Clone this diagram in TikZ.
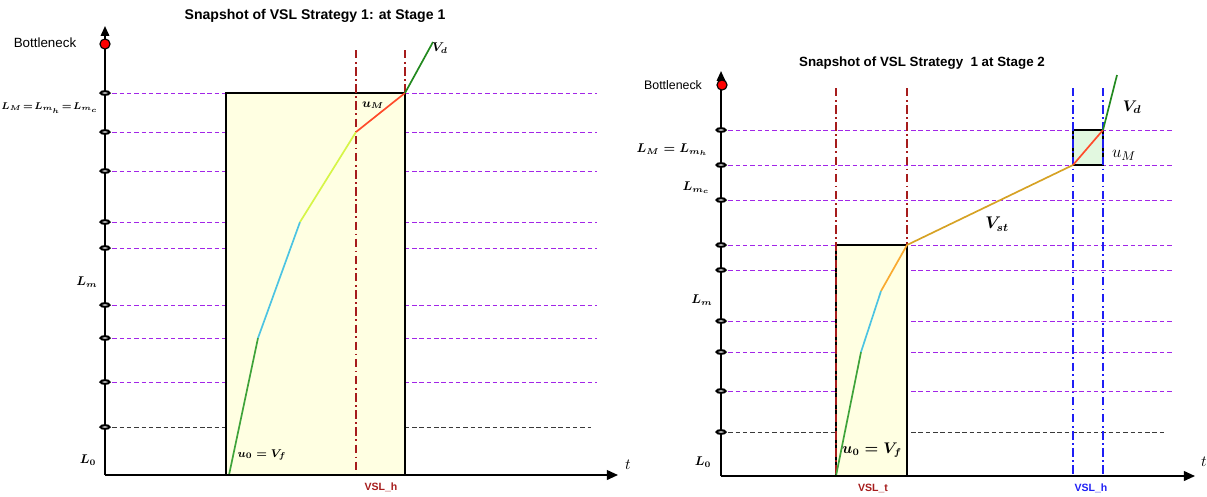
\documentclass[tikz,border=0pt]{standalone}
\usepackage{amsmath,amssymb}
\usepackage{fontspec}
\setsansfont{Liberation Sans}
\usepackage{xcolor}
\usepackage{tikz}
\usetikzlibrary{arrows.meta,positioning,calc}
\definecolor{cLevel}{HTML}{A226E8}
\definecolor{cBase}{HTML}{3A3A3A}
\definecolor{cVslT}{HTML}{A61C1C}
\definecolor{cVslH}{HTML}{1F1FF5}
\definecolor{cZone}{HTML}{FFFFE2}
\definecolor{cZoneG}{HTML}{E2F8E0}
\definecolor{cFree}{HTML}{3FA33A}
\definecolor{cSky}{HTML}{4CC4E2}
\definecolor{cLime}{HTML}{D6F547}
\definecolor{cRed}{HTML}{FF4B2B}
\definecolor{cOut}{HTML}{22891F}
\definecolor{cOrange}{HTML}{F9AA30}
\definecolor{cGold}{HTML}{D6A224}
\tikzset{
  axis/.style   = {draw=black, line width=1.3pt, -{Triangle[length=7pt,width=6pt]}},
  level/.style  = {draw=cLevel, line width=0.7pt, dash pattern=on 3.2pt off 2pt},
  base/.style   = {draw=cBase, line width=0.7pt, dash pattern=on 3.2pt off 2pt},
  vsl/.style    = {draw=#1, line width=1.3pt, dash pattern=on 6pt off 2.5pt on 1.2pt off 2.5pt},
  vsl/.default  = cVslT,
  zone/.style   = {draw=black, line width=1.3pt, fill=#1},
  zone/.default = cZone,
  seg/.style    = {draw=#1, line width=1.2pt},
  tick/.style   = {draw=black, fill=white, line width=1.5pt},
  ttl/.style    = {font=\sffamily\bfseries\fontsize{10}{12}\selectfont, inner sep=0pt},
  bneck/.style  = {font=\sffamily\fontsize{9.5}{11}\selectfont, inner sep=0pt},
  lab/.style    = {font=\fontsize{9}{11}\selectfont, inner sep=0pt},
  vlab/.style   = {font=\sffamily\bfseries\fontsize{7.5}{9}\selectfont, text=#1, inner sep=0pt},
}

\begin{document}
\begin{tikzpicture}[x=0.025cm, y=-0.025cm]
  \useasboundingbox (0,0) rectangle (1207,496);

  % stage 1
  \fill[cZone] (226,93) rectangle (405,475);
  \foreach \y in {93,132,171,222,248,305,338,382}
    \draw[level] (105,\y) -- (597,\y);
  \draw[base] (105,427) -- (591,427);
  \node[draw=none, minimum size=0pt, inner sep=0pt] (z1a) at (226,475) {};
  \node[draw=none, minimum size=0pt, inner sep=0pt] (z1b) at (405,93) {};
  \draw[zone] (z1a) rectangle (z1b);
  \draw[vsl] (356,50) -- (356,475);
  \draw[vsl] (405,50) -- (405,93);

  \coordinate (a0) at (229,475);
  \coordinate (a1) at (258,338);
  \coordinate (a2) at (300,222);
  \coordinate (a3) at (356,132);
  \coordinate (a4) at (405,93);
  \coordinate (a5) at (433,42);
  \draw[seg=cFree] (a0) -- (a1);
  \draw[seg=cSky]  (a1) -- (a2);
  \draw[seg=cLime] (a2) -- (a3);
  \draw[seg=cRed]  (a3) -- (a4);
  \draw[seg=cOut]  (a4) -- (a5);

  \coordinate (o1) at (105,475);
  \draw[axis] (o1) -- (105,26);
  \draw[axis, -{Triangle[length=8pt,width=7pt]}] (o1) -- (618,475);
  \foreach \y in {93,132,171,222,248,305,338,382,427}
    \draw[tick] (105,\y) ellipse [x radius=3.2pt, y radius=1.3pt];
  \draw[fill=red, draw=black, line width=0.8pt] (105,44) circle [radius=3.6pt];

  \node[ttl] (ttl1) at (315,16) {Snapshot of VSL Strategy 1: at Stage 1};
  \node[bneck] (bn1) at (45,43) {Bottleneck};
  \node[lab, anchor=east, font=\fontsize{7}{9}\selectfont] (lM1) at (98,108)
    {$\boldsymbol{L_M \mskip2mu{=}\mskip2mu L_{m_h} \mskip2mu{=}\mskip2mu L_{m_c}}$};
  \node[lab] (lm1) at (87,282) {$\boldsymbol{L_m}$};
  \node[lab] (l01) at (88,460) {$\boldsymbol{L_0}$};
  \node[lab, font=\fontsize{11}{13}\selectfont] (t1) at (628,465) {$t$};
  \node[vlab=cVslT] (vslh1) at (381,487) {VSL\_h};
  \node[lab, font=\fontsize{8}{10}\selectfont] (u01) at (262,455) {$\boldsymbol{u_0 = V_f}$};
  \node[lab] (uM1) at (373,105) {$\boldsymbol{u_M}$};
  \node[lab] (vd1) at (440,48) {$\boldsymbol{V_d}$};

  % stage 2
  \fill[cZone] (836,245) rectangle (907,476);
  \fill[cZoneG] (1073,130) rectangle (1103,165);
  \foreach \y in {130,165,200,245,270,321,352,391}
    \draw[level] (721,\y) -- (1173,\y);
  \draw[base] (721,432) -- (1167,432);
  \node[draw=none, inner sep=0pt] (z2a) at (836,476) {};
  \node[draw=none, inner sep=0pt] (z2b) at (907,245) {};
  \draw[zone] (z2a) rectangle (z2b);
  \node[draw=none, inner sep=0pt] (z3a) at (1073,165) {};
  \node[draw=none, inner sep=0pt] (z3b) at (1103,130) {};
  \draw[zone=cZoneG, fill=none] (z3a) rectangle (z3b);
  \draw[vsl] (836,88) -- (836,476);
  \draw[vsl] (907,88) -- (907,245);
  \draw[vsl=cVslH] (1073,88) -- (1073,476);
  \draw[vsl=cVslH] (1103,88) -- (1103,476);

  \coordinate (b0) at (836,476);
  \coordinate (b1) at (861,352);
  \coordinate (b2) at (881,291);
  \coordinate (b3) at (907,245);
  \coordinate (b4) at (1073,165);
  \coordinate (b5) at (1103,130);
  \coordinate (b6) at (1117,75);
  \draw[seg=cFree]   (b0) -- (b1);
  \draw[seg=cSky]    (b1) -- (b2);
  \draw[seg=cOrange] (b2) -- (b3);
  \draw[seg=cGold]   (b3) -- (b4);
  \draw[seg=cRed]    (b4) -- (b5);
  \draw[seg=cOut]    (b5) -- (b6);

  \coordinate (o2) at (721,476);
  \draw[axis] (o2) -- (721,71);
  \draw[axis, -{Triangle[length=8pt,width=7pt]}] (o2) -- (1195,476);
  \foreach \y in {130,165,200,245,270,321,352,391,432}
    \draw[tick] (721,\y) ellipse [x radius=3.2pt, y radius=1.3pt];
  \draw[fill=red, draw=black, line width=0.8pt] (722,85) circle [radius=3.6pt];

  \node[ttl, font=\sffamily\bfseries\fontsize{9.5}{11}\selectfont] (ttl2) at (922,63) {Snapshot of VSL Strategy\ \ 1 at Stage 2};
  \node[bneck, font=\sffamily\fontsize{8.8}{10}\selectfont] (bn2) at (673,85) {Bottleneck};
  \node[lab, anchor=east] (lM2) at (708,150) {$\boldsymbol{L_M = L_{m_h}}$};
  \node[lab] (lmc2) at (696,188) {$\boldsymbol{L_{m_c}}$};
  \node[lab] (lm2) at (702,300) {$\boldsymbol{L_m}$};
  \node[lab] (l02) at (703,462) {$\boldsymbol{L_0}$};
  \node[lab, font=\fontsize{11}{13}\selectfont] (t2) at (1204,462) {$t$};
  \node[vlab=cVslT] (vslt2) at (873,488) {VSL\_t};
  \node[vlab=cVslH] (vslh2) at (1091,488) {VSL\_h};
  \node[lab, font=\fontsize{10.5}{12}\selectfont] (u02) at (872,450) {$\boldsymbol{u_0 = V_f}$};
  \node[lab, font=\fontsize{13}{15}\selectfont] (uM2) at (1124,155) {$u_M$};
  \node[lab, font=\fontsize{11}{13}\selectfont] (vd2) at (1132,107) {$\boldsymbol{V_d}$};
  \node[lab, font=\fontsize{12}{14}\selectfont] (vst2) at (997,224) {$\boldsymbol{V_{st}}$};
\end{tikzpicture}
\end{document}
